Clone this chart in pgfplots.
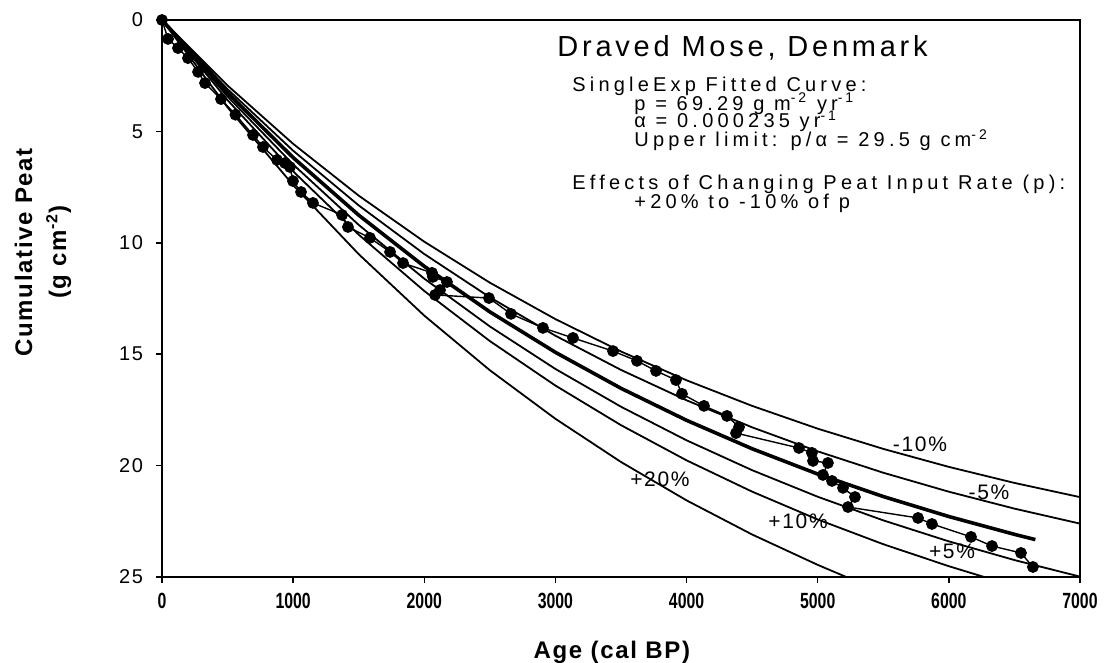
\documentclass[border=0pt]{standalone}
\usepackage{fontspec}
\setmainfont{Liberation Sans}
\newfontfamily\titfont{Liberation Sans}[LetterSpace=13]
\newfontfamily\annfont{Liberation Sans}[LetterSpace=21]
\newfontfamily\tickfont{Liberation Sans}[LetterSpace=8]
\newfontfamily\narrowfont{Liberation Sans}[FakeStretch=0.72]
\newfontfamily\labfont{Liberation Sans}[LetterSpace=7]
\usepackage{pgfplots}
\pgfplotsset{compat=1.18}
\begin{document}
\begin{tikzpicture}
\useasboundingbox (0,0) rectangle (554.5pt,331.5pt);
\begin{axis}[at={(81pt,43pt)}, anchor=south west, scale only axis,
  width=459pt, height=278.5pt,
  xmin=0, xmax=7000, ymin=0, ymax=25, y dir=reverse,
  xtick={0,1000,...,7000}, ytick={0,5,...,25},
  tick align=outside, xtick pos=bottom, ytick pos=left, major tick length=3pt,
  /pgf/number format/assume math mode=true, /pgf/number format/1000 sep={},
  x tick label style={font=\narrowfont\bfseries\fontsize{11}{13}\selectfont, yshift=-1.5pt},
  y tick label style={font=\tickfont\fontsize{10}{12}\selectfont, xshift=-3pt},
  axis line style={line width=0.75pt}, tick style={line width=0.75pt, black},
  clip mode=individual,
]
% -10%
\addplot[black, line width=0.9pt] coordinates {(0,0) (500,2.942) (1000,5.558) (1500,7.883) (2000,9.951) (2500,11.790) (3000,13.425) (3500,14.878) (4000,16.171) (4500,17.320) (5000,18.342) (5500,19.250) (6000,20.058) (6500,20.777) (7000,21.415)};
% -5%
\addplot[black, line width=0.9pt] coordinates {(0,0) (500,3.105) (1000,5.866) (1500,8.321) (2000,10.504) (2500,12.445) (3000,14.171) (3500,15.705) (4000,17.069) (4500,18.282) (5000,19.361) (5500,20.320) (6000,21.172) (6500,21.931) (7000,22.604)};
% +5%
\addplot[black, line width=0.9pt] coordinates {(0,0) (500,3.432) (1000,6.484) (1500,9.197) (2000,11.610) (2500,13.754) (3000,15.662) (3500,17.358) (4000,18.865) (4500,20.206) (5000,21.398) (5500,22.458) (6000,23.401) (6500,24.239) (7000,24.983)};
% +10%
\addplot[black, line width=0.9pt] coordinates {(0,0) (500,3.596) (1000,6.793) (1500,9.635) (2000,12.163) (2500,14.410) (3000,16.408) (3500,18.185) (4000,19.764) (4500,21.169) (5000,22.418) (5500,23.528) (6000,24.515) (6269,25)};
% +20%
\addplot[black, line width=0.9pt] coordinates {(0,0) (500,3.922) (1000,7.410) (1500,10.511) (2000,13.268) (2500,15.720) (3000,17.899) (3500,19.838) (4000,21.561) (4500,23.093) (5000,24.455) (5218,25)};
% fitted
\addplot[black, line width=1.8pt] coordinates {(0,0) (500,3.269) (1000,6.175) (1500,8.759) (2000,11.057) (2500,13.100) (3000,14.916) (3500,16.531) (4000,17.967) (4500,19.244) (5000,20.379) (5500,21.389) (6000,22.286) (6500,23.085) (6660,23.321)};
% data
\addplot[black, line width=0.7pt, mark=*, mark size=2.6pt, mark options={fill=black}] coordinates {
(0,0) (46,0.85) (122,1.26) (198,1.71) (275,2.33) (328,2.83) (450,3.55) (560,4.25)
(694,5.16) (770,5.70) (877,6.28) (938,6.42) (976,6.60) (999,7.23) (1060,7.72) (1151,8.21)
(1373,8.75) (1418,9.29) (1586,9.78) (1739,10.41) (1838,10.91) (2059,11.35) (2066,11.53)
(2173,11.76) (2120,12.12) (2082,12.34) (2493,12.48) (2661,13.19) (2905,13.82) (3134,14.27)
(3439,14.86) (3622,15.30) (3767,15.75) (3919,16.16) (3965,16.78) (4133,17.32) (4308,17.77)
(4400,18.27) (4377,18.54) (4857,19.21) (4956,19.43) (4964,19.79) (5078,19.88) (5040,20.42)
(5109,20.69) (5193,21.00) (5284,21.41) (5231,21.86) (5765,22.35) (5871,22.62) (6169,23.20)
(6329,23.61) (6550,23.92) (6641,24.55)};
% curve labels
\begin{scope}[every node/.style={font=\tickfont\fontsize{10.5}{12}\selectfont, inner sep=0pt}]
\node at (axis cs:5780,19.03) {-10\%};
\node at (axis cs:6306,21.18) {-5\%};
\node at (axis cs:4850,22.49) {+10\%};
\node at (axis cs:6024,23.83) {+5\%};
\node at (axis cs:3797,20.60) {+20\%};
\end{scope}
% annotation block
\node[anchor=base west, inner sep=0pt, font=\titfont\fontsize{14.5}{16}\selectfont] at (rel axis cs:0.4303,0.9336) {Draved Mose, Denmark};
\begin{scope}[every node/.style={anchor=base west, inner sep=0pt, font=\annfont\fontsize{10}{11}\selectfont}]
\node at (rel axis cs:0.4466,0.8725) {SingleExp Fitted Curve:};
\node at (rel axis cs:0.5142,0.8384) {p = 69.29 g m\textsuperscript{-2} yr\textsuperscript{-1}};
\node at (rel axis cs:0.5142,0.8061) {α = 0.000235 yr\textsuperscript{-1}};
\node at (rel axis cs:0.5142,0.7720) {Upper limit: p/α = 29.5 g cm\textsuperscript{-2}};
\node at (rel axis cs:0.4466,0.6948) {Effects of Changing Peat Input Rate (p):};
\node at (rel axis cs:0.5142,0.6607) {+20\% to -10\% of p};
\end{scope}
% axis labels
\node[font=\labfont\bfseries\fontsize{12}{14}\selectfont] at (rel axis cs:0.49,0) [yshift=-37.5pt] {Age (cal BP)};
\node[rotate=90, align=center, font=\labfont\bfseries\fontsize{12}{17}\selectfont] at (rel axis cs:-0.1296,0.583) {Cumulative Peat\\(g cm\textsuperscript{-2})};
\end{axis}
\end{tikzpicture}
\end{document}
